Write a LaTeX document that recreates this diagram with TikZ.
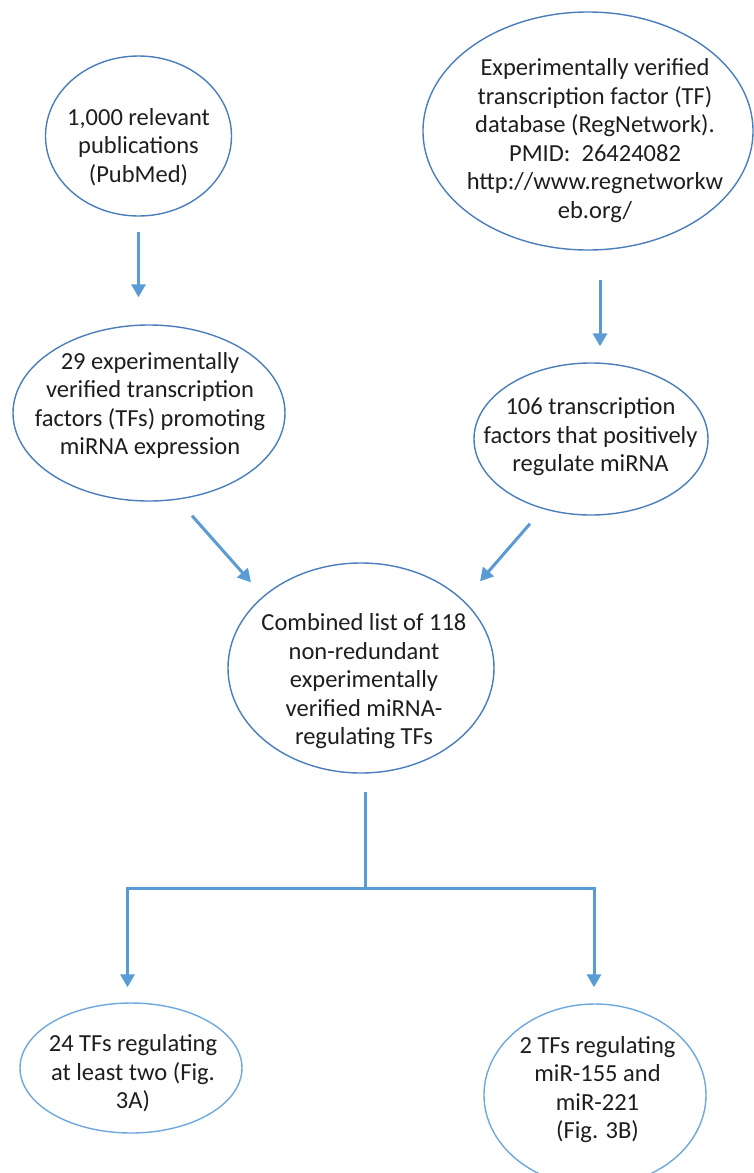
\documentclass[tikz,border=0pt]{standalone}
\usepackage{fontspec}
\setmainfont{Carlito}
\usetikzlibrary{shapes.geometric,arrows.meta}
\definecolor{ringblue}{HTML}{4A7EBB}
\definecolor{ringlight}{HTML}{6FA8DC}
\definecolor{arrowblue}{HTML}{5B9BD5}
\definecolor{txt}{HTML}{1E1E1E}
\tikzset{
  ring/.style={ellipse, draw=ringblue, line width=1.4pt, inner sep=0pt},
  ringlt/.style={ring, draw=ringlight},
  words/.style={align=center, inner sep=0pt, text=txt, font=\fontsize{24.5}{28.5}\selectfont},
  arr/.style={draw=arrowblue, line width=3pt, -{Triangle[width=14pt,length=13pt]}},
  plain/.style={draw=arrowblue, line width=3pt}
}
\begin{document}
\begin{tikzpicture}[x=1pt,y=-1pt]
\useasboundingbox (0,0) rectangle (753,1173);
\fill[white] (0,0) rectangle (753,1173);

% ellipses
\node[ring, minimum width=186pt, minimum height=160pt] (pub) at (138.5,136) {};
\node[ring, minimum width=330pt, minimum height=238pt] (reg) at (588,131) {};
\node[ring, minimum width=272pt, minimum height=176pt] (tf29) at (149,413) {};
\node[ring, minimum width=234pt, minimum height=152pt] (tf106) at (591,439) {};
\node[ring, minimum width=266pt, minimum height=210pt] (comb) at (361,668) {};
\node[ringlt, minimum width=222pt, minimum height=130pt] (b1) at (131,1068) {};
\node[ringlt, minimum width=222pt, minimum height=182pt] (b2) at (595,1095) {};

% texts
\node[words] (pubt) at (138.5,147) {1,000 relevant\\publications\\(PubMed)};
\node[words] (regt) at (595,140.5) {Experimentally verified\\transcription factor (TF)\\database (RegNetwork).\\PMID:\ \ 26424082\\http://www.regnetworkw\\eb.org/};
\node[words] (tf29t) at (150,405.5) {29 experimentally\\verified transcription\\factors (TFs)\ promoting\\miRNA expression};
\node[words] (tf106t) at (590.5,437) {106 transcription\\factors that positively\\regulate miRNA};
\node[words] (combt) at (364,681.5) {Combined list of 118\\non-redundant\\experimentally\\verified miRNA-\\regulating TFs};
\node[words] (b1t) at (133,1073.5) {24 TFs regulating\\at least two (Fig.\\3A)};
\node[words] (b2t) at (597.5,1089.5) {2 TFs regulating\\miR-155 and\\miR-221\\(Fig. 3B)};

% connectors
\draw[arr, shorten <=15pt, shorten >=27pt] (pub.south) -- (pub.south |- tf29.north);
\draw[arr, shorten <=29pt, shorten >=16pt] ([xshift=12pt]reg.south) -- ([xshift=12pt]reg.south |- tf106.north);
\draw[arr] ([xshift=43pt,yshift=-14pt]tf29.south) -- ([xshift=-110pt,yshift=-20pt]comb.north);
\draw[arr] ([xshift=-61pt,yshift=-8pt]tf106.south) -- ([xshift=119pt,yshift=-19pt]comb.north);

\coordinate (split) at (365,888);
\draw[plain] ([xshift=4pt,yshift=-18pt]comb.south) -- (split);
\draw[arr, shorten >=15pt] (split) -| ([xshift=-3.5pt]b1.north);
\draw[arr, shorten >=16pt] (split) -| ([xshift=-1pt]b2.north);
\end{tikzpicture}
\end{document}
